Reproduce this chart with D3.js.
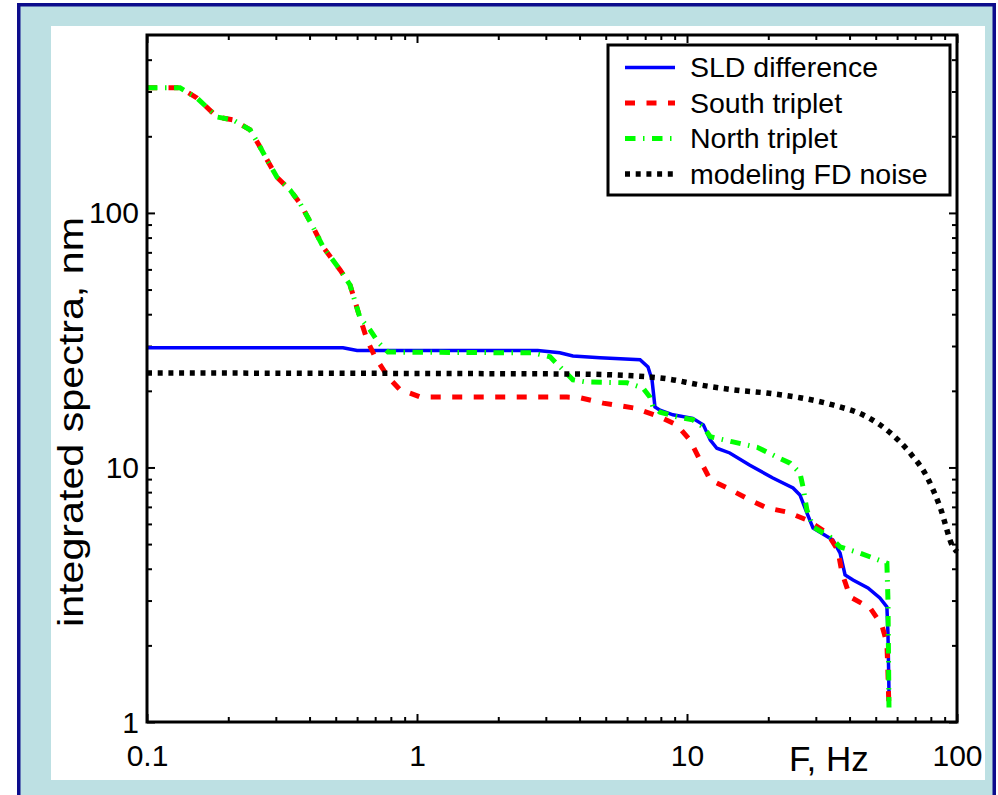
<!DOCTYPE html>
<html>
<head>
<meta charset="utf-8">
<script src="https://cdn.jsdelivr.net/npm/d3@7"></script>
<style>
body { margin: 0; background: #fff; }
text { font-family: "Liberation Sans", Arial, Helvetica, sans-serif; fill: #000; }
</style>
</head>
<body>
<script>
// values (frequency in Hz, integrated spectra in nm)
const sldF = [0.1, 0.532, 0.6, 2.8, 3.38, 3.78, 4.76, 6.7, 7.17, 7.42, 7.61, 7.94, 8.87, 10.5, 11.5, 12.2, 12.9, 14.4, 17.1, 20.8, 24.7, 26.2, 27.8, 29.3, 34.7, 36.9, 38.5, 41.2, 46.8, 51.8, 55.0, 55.5, 56.0]
const sldV = [29.5, 29.5, 28.8, 28.8, 28.2, 27.4, 27.0, 26.5, 24.8, 22.1, 17.3, 16.8, 16.1, 15.6, 14.7, 12.8, 11.9, 11.4, 10.2, 9.09, 8.3, 7.8, 6.63, 5.78, 5.19, 4.61, 3.78, 3.61, 3.36, 3.07, 2.83, 2.24, 1.3]

const southF = [0.1, 0.1325, 0.153, 0.182, 0.208, 0.241, 0.262, 0.278, 0.303, 0.339, 0.369, 0.412, 0.449, 0.519, 0.565, 0.615, 0.653, 0.699, 0.781, 0.865, 0.942, 1.03, 3.59, 4.01, 4.89, 6.42, 7.94, 9.18, 10.26, 11.17, 12.2, 14.1, 17.1, 19.8, 23.5, 27.8, 33.0, 36.2, 37.5, 40.2, 47.6, 52.7, 55.0, 55.5, 56.0]
const southV = [310, 310, 283, 238, 232, 212, 182, 162, 138, 123, 109, 88.1, 73.5, 59.7, 52.1, 38.7, 31.7, 27.2, 22.7, 20.2, 19.6, 18.9, 18.9, 18.8, 17.9, 17.1, 15.8, 14.7, 12.8, 10.7, 8.93, 8.3, 7.45, 6.93, 6.68, 6.22, 5.53, 4.74, 3.85, 3.10, 2.81, 2.40, 2.04, 1.56, 1.11]

const northF = [0.1, 0.1325, 0.153, 0.182, 0.208, 0.241, 0.262, 0.278, 0.303, 0.339, 0.369, 0.412, 0.449, 0.519, 0.565, 0.615, 0.670, 0.717, 0.781, 2.69, 3.11, 3.47, 3.78, 4.19, 6.0, 6.87, 7.29, 7.48, 7.94, 9.18, 10.5, 11.5, 12.2, 14.8, 18.2, 21.5, 24.1, 26.2, 26.9, 27.8, 29.3, 33.9, 36.9, 43.7, 55.0, 55.5, 56.0]
const northV = [310, 310, 283, 238, 232, 212, 182, 162, 138, 123, 109, 88.1, 73.5, 59.7, 52.1, 38.7, 34.7, 31.1, 28.4, 28.2, 27.2, 24.2, 22.1, 21.7, 21.5, 20.5, 18.9, 17.3, 16.5, 15.8, 15.4, 14.4, 13.2, 12.6, 12.0, 11.0, 10.4, 9.51, 8.38, 6.81, 5.84, 5.33, 4.87, 4.61, 4.21, 3.02, 1.11]

const modelF = [0.1, 3.59, 6.31, 8.43, 11.17, 14.8, 19.8, 26.2, 34.7, 46.4, 56.5, 67.0, 77.4, 86.5, 96.7, 100]
const modelV = [23.5, 23.3, 22.9, 22.3, 21.1, 20.2, 19.6, 18.8, 17.6, 15.8, 13.7, 11.4, 9.18, 7.0, 4.87, 4.66]

const xMajor = [0.1, 1, 10, 100]
const xMinor = [0.2, 0.3, 0.4, 0.5, 0.6, 0.7, 0.8, 0.9, 2, 3, 4, 5, 6, 7, 8, 9, 20, 30, 40, 50, 60, 70, 80, 90]
const yMajor = [1, 10, 100]
const yMinor = [2, 3, 4, 5, 6, 7, 8, 9, 20, 30, 40, 50, 60, 70, 80, 90, 200, 300, 400]
const xLabels = ['0.1', '1', '10', '100']
const yLabels = ['1', '10', '100']
const legendNames = ['SLD difference', 'South triplet', 'North triplet', 'modeling FD noise']

const W = 998, H = 795
const plot = {left: 147, right: 957, top: 35, bottom: 722}

const svg = d3.select('body').append('svg')
  .attr('width', W)
  .attr('height', H)

// background frame
svg.append('rect').attr('x', 17).attr('y', 3).attr('width', 979).attr('height', 900).attr('fill', '#bde0e3')
svg.append('rect').attr('x', 18.75).attr('y', 4.75).attr('width', 975.5).attr('height', 900)
  .attr('fill', 'none').attr('stroke', '#0c0c8c').attr('stroke-width', 3.5)
svg.append('rect').attr('x', 51).attr('y', 26).attr('width', 934).attr('height', 754).attr('fill', '#fff')

const x = d3.scaleLog().domain([0.1, 100]).range([plot.left, plot.right])
const y = d3.scaleLog().domain([1, 500]).range([plot.bottom, plot.top])

// ticks pointing inward on all four sides
function addAxis(gen, at, vals, len, labels) {
  const g = svg.append('g').attr('transform', at)
    .call(gen.tickValues(vals).tickSize(-len).tickFormat((d, i) => labels ? labels[i] : ''))
  g.select('.domain').remove()
  g.selectAll('.tick line').attr('stroke', '#000').attr('stroke-width', 2)
  return g
}
const bx = addAxis(d3.axisBottom(x), `translate(0,${plot.bottom})`, xMajor, 8, xLabels)
bx.selectAll('text').attr('y', 44).attr('dy', 0).attr('font-size', 30)
addAxis(d3.axisBottom(x), `translate(0,${plot.bottom})`, xMinor, 5)
addAxis(d3.axisTop(x), `translate(0,${plot.top})`, xMajor, 8)
addAxis(d3.axisTop(x), `translate(0,${plot.top})`, xMinor, 5)
const ly = addAxis(d3.axisLeft(y), `translate(${plot.left},0)`, yMajor, 8, yLabels)
ly.selectAll('text').attr('x', -8).attr('dy', 0).attr('y', 10).attr('font-size', 30)
addAxis(d3.axisLeft(y), `translate(${plot.left},0)`, yMinor, 5)
addAxis(d3.axisRight(y), `translate(${plot.right},0)`, yMajor, 8)
addAxis(d3.axisRight(y), `translate(${plot.right},0)`, yMinor, 5)

svg.selectAll('.tick text').attr('fill', '#000')
svg.selectAll('g').attr('font-family', null).attr('font-size', null)

// lines
const line = d3.line().x(d => x(d[0])).y(d => y(d[1]))
const series = [
  {f: sldF, v: sldV, color: '#0000ff', w: 3.5, dash: null},
  {f: southF, v: southV, color: '#ff0000', w: 5, dash: '10,11.5'},
  {f: northF, v: northV, color: '#00ff00', w: 5, dash: '10.5,7.5,1.5,7.5'},
  {f: modelF, v: modelV, color: '#000000', w: 5.5, dash: '5,5.7'}
]
series.forEach(s => {
  const pts = d3.zip(s.f, s.v)
  svg.append('path')
    .attr('d', s.f === modelF ? line.curve(d3.curveMonotoneX)(pts) : line.curve(d3.curveLinear)(pts))
    .attr('fill', 'none')
    .attr('stroke', s.color)
    .attr('stroke-width', s.w)
    .attr('stroke-dasharray', s.dash)
})

// plot box
svg.append('rect')
  .attr('x', plot.left).attr('y', plot.top)
  .attr('width', plot.right - plot.left).attr('height', plot.bottom - plot.top)
  .attr('fill', 'none').attr('stroke', '#000').attr('stroke-width', 3)

// axis titles
svg.append('text')
  .attr('x', 789).attr('y', 771)
  .attr('font-size', 35)
  .text('F, Hz')

svg.append('text')
  .attr('transform', 'translate(83,422) rotate(-90)')
  .attr('text-anchor', 'middle')
  .attr('font-size', 35)
  .attr('textLength', 410)
  .attr('lengthAdjust', 'spacingAndGlyphs')
  .text('integrated spectra, nm')

// legend
svg.append('rect')
  .attr('x', 608).attr('y', 45).attr('width', 342).attr('height', 150)
  .attr('fill', '#fff').attr('stroke', '#000').attr('stroke-width', 3)

const leg = svg.append('g')
series.forEach((s, i) => {
  const ry = 67.5 + i * 35.5
  leg.append('line')
    .attr('x1', 625).attr('x2', 675).attr('y1', ry).attr('y2', ry)
    .attr('stroke', s.color).attr('stroke-width', s.w)
    .attr('stroke-dasharray', s.dash)
  leg.append('text')
    .attr('x', 690).attr('y', ry + 9.5)
    .attr('font-size', 28.5)
    .text(legendNames[i])
})
</script>
</body>
</html>
